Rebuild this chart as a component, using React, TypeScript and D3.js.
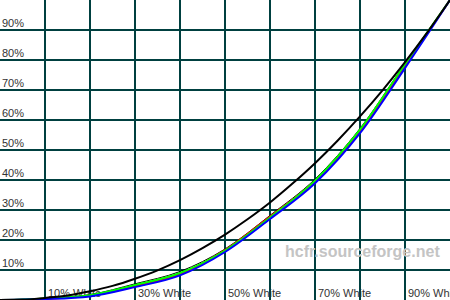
import React from "react";
import * as d3 from "d3";

const levels = [0, 10, 20, 30, 40, 50, 60, 70, 80, 90, 100];
const refLevels = [0, 5, 10, 15, 20, 25, 30, 35, 40, 45, 50, 55, 60, 65, 70, 75, 80, 85, 90, 95, 100];
const referenceGamma = [0, 0.1, 0.7, 1.5, 2.9, 4.7, 7.1, 9.9, 13.3, 17.3, 21.8, 26.9, 32.5, 38.8, 45.6, 53.1, 61.2, 69.9, 79.3, 89.3, 100];
const redValues = [0, 0.4, 1.4, 4.6, 8.6, 16.6, 27.8, 39.6, 56.2, 78.0, 100];
const greenValues = [0, 0.5, 1.6, 5.0, 9.0, 16.5, 27.5, 39.8, 56.8, 78.6, 100];
const blueValues = [0, 0.3, 1.2, 4.3, 8.2, 16.0, 27.0, 38.9, 55.6, 77.3, 100];
const lumaValues = [0, 0.6, 1.8, 5.4, 9.5, 17.0, 28.2, 40.3, 57.2, 78.8, 100];
const yTicks = [10, 20, 30, 40, 50, 60, 70, 80, 90];
const xTicks = [10, 20, 30, 40, 50, 60, 70, 80, 90];
const xLabels = [
  { v: 10, t: "10% White" },
  { v: 30, t: "30% White" },
  { v: 50, t: "50% White" },
  { v: 70, t: "70% White" },
  { v: 90, t: "90% White" },
];

const W = 450;
const H = 300;

export default function App() {
  const x = d3.scaleLinear().domain([0, 100]).range([0, W]);
  const y = d3.scaleLinear().domain([0, 100]).range([H, 0]);
  const mk = (xs: number[], ys: number[]) =>
    d3
      .line<number>()
      .x((_, i) => x(xs[i]))
      .y((d) => y(d))
      .curve(d3.curveMonotoneX)(ys) as string;
  const grid = "#004040";
  const font = "'Liberation Sans', Arial, sans-serif";
  return (
    <svg
      width={W}
      height={H}
      style={{ position: "fixed", left: 0, top: 0, background: "#fff" }}
    >
      <rect x={0} y={0} width={W} height={H} fill="#fff" />
      {xTicks.map((v) => (
        <line key={"vx" + v} x1={x(v)} x2={x(v)} y1={0} y2={H} stroke={grid} strokeWidth={2} />
      ))}
      {yTicks.map((v) => (
        <line key={"hy" + v} x1={0} x2={W} y1={y(v)} y2={y(v)} stroke={grid} strokeWidth={2} />
      ))}
      {yTicks.map((v) => (
        <text key={"ty" + v} x={2} y={y(v) - 3} fontFamily={font} fontSize={11} fill="#333">
          {v}%
        </text>
      ))}
      {xLabels.map((d) => (
        <text key={"tx" + d.v} x={x(d.v) + 3} y={297} fontFamily={font} fontSize={11} fill="#333">
          {d.t}
        </text>
      ))}
      <text x={285} y={257} fontFamily={font} fontSize={16} fontWeight="bold" fill="#c4c4c4">
        hcfr.sourceforge.net
      </text>
      <path d={mk(levels, lumaValues)} fill="none" stroke="#000" strokeWidth={1} />
      <path d={mk(levels, redValues)} fill="none" stroke="#ff0000" strokeWidth={2} />
      <path d={mk(levels, greenValues)} fill="none" stroke="#00ff00" strokeWidth={2} />
      <path d={mk(levels, blueValues)} fill="none" stroke="#0000ff" strokeWidth={2} />
      <path d={mk(refLevels, referenceGamma)} fill="none" stroke="#000" strokeWidth={2} />
    </svg>
  );
}
